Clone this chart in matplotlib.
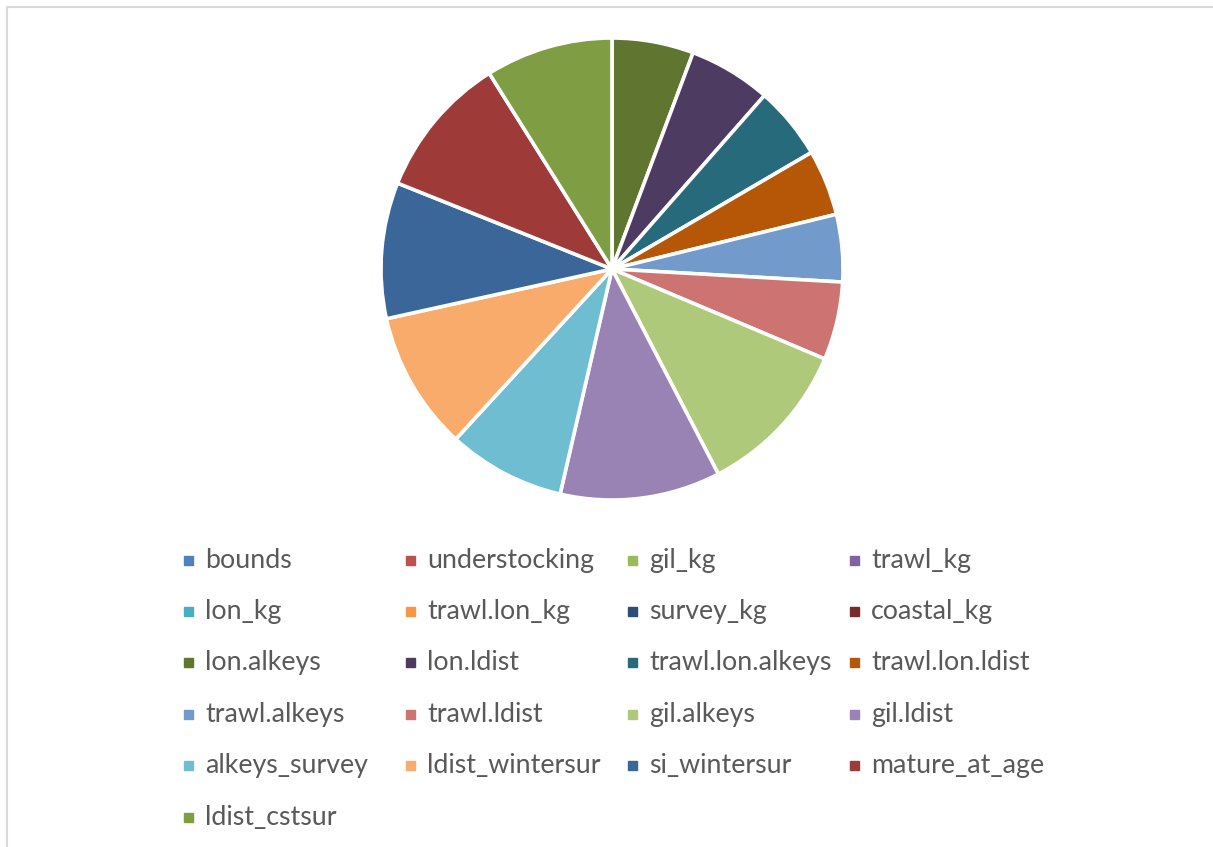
import matplotlib.pyplot as plt
from matplotlib.patches import Rectangle
from matplotlib.lines import Line2D

labels = ["bounds", "understocking", "gil_kg", "trawl_kg",
          "lon_kg", "trawl.lon_kg", "survey_kg", "coastal_kg",
          "lon.alkeys", "lon.ldist", "trawl.lon.alkeys", "trawl.lon.ldist",
          "trawl.alkeys", "trawl.ldist", "gil.alkeys", "gil.ldist",
          "alkeys_survey", "ldist_wintersur", "si_wintersur", "mature_at_age",
          "ldist_cstsur"]
values = [0, 0, 0, 0, 0, 0, 0, 0,
          5.7, 5.75, 5.1, 4.6,
          4.7, 5.45, 11.0, 11.2,
          8.2, 9.7, 9.5, 10.0,
          8.9]
colors = ["#4F81BD", "#C0504D", "#9BBB59", "#8064A2",
          "#4BACC6", "#F79646", "#2C4D75", "#772C2A",
          "#5F7530", "#4D3B62", "#276A7C", "#B65708",
          "#729ACA", "#CD7371", "#AFC97A", "#9983B5",
          "#6FBDD1", "#F9AB6B", "#3A6699", "#9E3B39",
          "#7F9D42"]

W, H = 1213, 847
fig = plt.figure(figsize=(W / 100, H / 100), dpi=100)

# pie, centre at (612, 269) px, radius 231 px
cx, cy, r = 612, 269, 231
ax = fig.add_axes([(cx - r) / W, 1 - (cy + r) / H, 2 * r / W, 2 * r / H])
shown = [i for i, v in enumerate(values) if v > 0]
ax.pie([values[i] for i in shown], colors=[colors[i] for i in shown],
       startangle=90, counterclock=False, radius=1,
       wedgeprops=dict(edgecolor="white", linewidth=2.6))
ax.set_xlim(-1, 1)
ax.set_ylim(-1, 1)

# legend grid, 4 columns
for i, lab in enumerate(labels):
    col, row = i % 4, i // 4
    x = 184 + col * 222
    y = 560 + row * 51.4
    fig.patches.append(Rectangle((x / W, 1 - (y + 4.5) / H), 9 / W, 9 / H,
                                 transform=fig.transFigure, color=colors[i]))
    fig.text((x + 21) / W, 1 - y / H, lab, va="center", ha="left",
             fontsize=19.3, family="Lato", color="#595959")

# chart area border (top and left visible)
fig.add_artist(Line2D([7 / W, 7 / W, 1], [0, 1 - 7 / H, 1 - 7 / H],
                      transform=fig.transFigure, color="#D9D9D9", lw=1.5))

fig.savefig("out.png", dpi=100)
